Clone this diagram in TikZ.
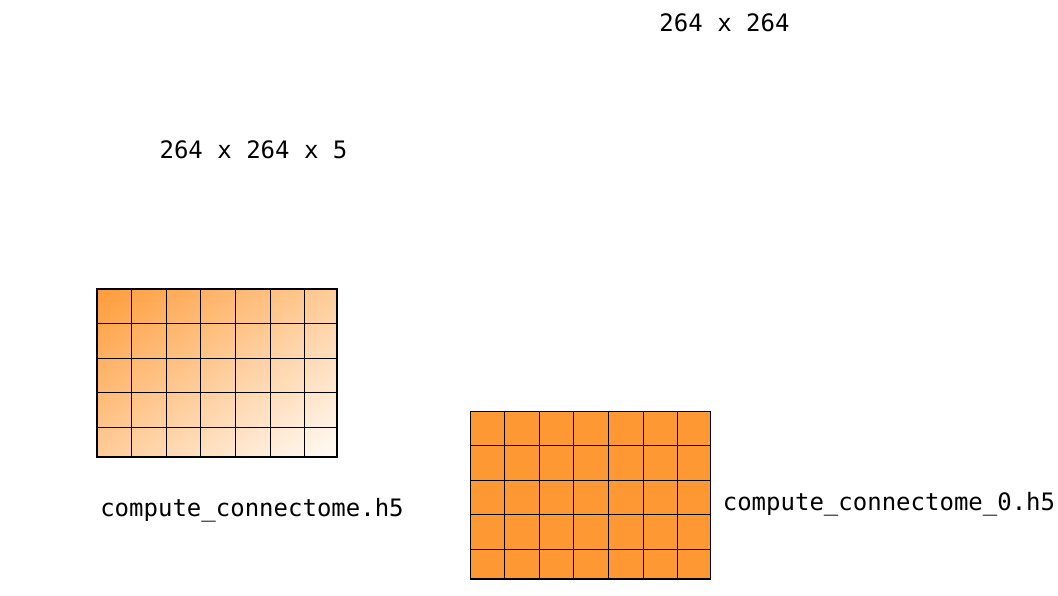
\documentclass[tikz,border=0pt]{standalone}
\usepackage{fontspec}
\setmonofont{DejaVu Sans Mono}
\definecolor{gridorange}{RGB}{253,152,51}
\definecolor{shadestart}{RGB}{255,156,58}
\definecolor{shadeend}{RGB}{255,252,248}
\tikzset{
  lbl/.style={font=\ttfamily\fontsize{24}{28}\selectfont, inner sep=0pt, anchor=base},
  gridbox/.style={minimum width=240pt, minimum height=168pt, inner sep=0pt, outer sep=0pt, anchor=north west},
  frame/.style={draw=black, line width=2pt},
  gridlines/.style={draw=black, line width=1pt},
}
\begin{document}
\begin{tikzpicture}[x=1pt,y=1pt]
\useasboundingbox (0,0) rectangle (1058,-595);
% shaded 3D grid
\node[gridbox] (g1) at (97,-289) {};
\begin{scope}
  \clip (g1.north west) rectangle (g1.south east);
  \begin{scope}[transform canvas={shift={(g1.center)}, rotate=-55}]
    \shade[left color=shadestart, right color=shadeend] (-137.6,-300) rectangle (137.6,300);
  \end{scope}
\end{scope}
\begin{scope}[shift={(g1.north west)}]
  \draw[gridlines, step=34.6] (0,-168) grid (240,0);
\end{scope}
\node[gridbox, frame] (g1f) at (97,-289) {};
% flat grid
\node[gridbox, fill=gridorange] (g2) at (470,-411) {};
\begin{scope}[shift={(g2.north west)}]
  \draw[gridlines, step=34.6] (0,-168) grid (240,0);
\end{scope}
\node[gridbox, draw=black, line width=1pt] (g2f) at (470,-411) {};
\draw[line width=2pt] (g2.south west) -- (g2.south east);
% labels
\node[lbl] (t1) at (724.5,-31) {264 x 264};
\node[lbl] (t2) at (253.5,-158) {264 x 264 x 5};
\node[lbl] (t3) at (252,-516) {compute\_connectome.h5};
\node[lbl] (t4) at (889,-510) {compute\_connectome\_0.h5};
\end{tikzpicture}
\end{document}
